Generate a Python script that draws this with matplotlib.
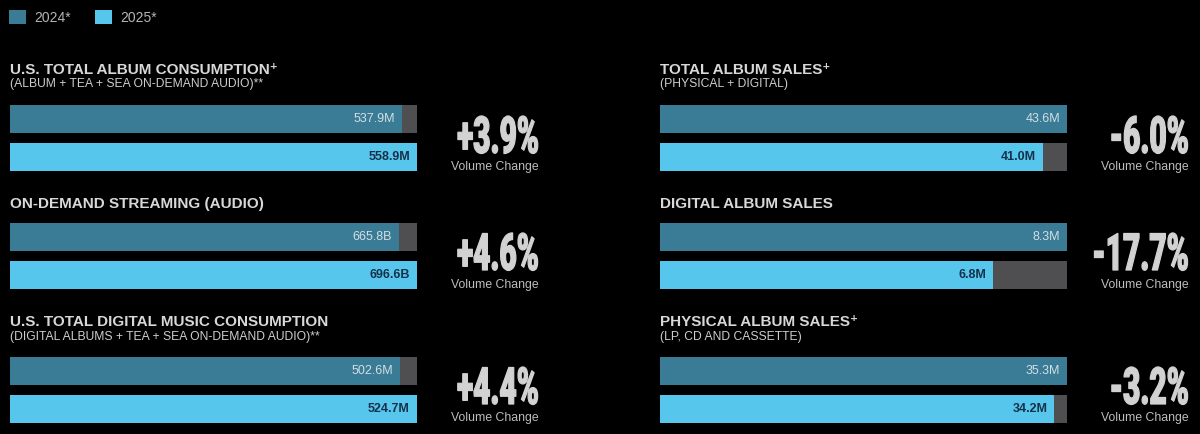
import matplotlib
matplotlib.use("Agg")
import matplotlib.pyplot as plt
from matplotlib.patches import Patch
from matplotlib.patheffects import AbstractPathEffect
from matplotlib.transforms import Affine2D

# ---------------- data ----------------
series = ["2024*", "2025*"]
titles = ["U.S. TOTAL ALBUM CONSUMPTION\u207a",
          "ON-DEMAND STREAMING (AUDIO)",
          "U.S. TOTAL DIGITAL MUSIC CONSUMPTION",
          "TOTAL ALBUM SALES\u207a",
          "DIGITAL ALBUM SALES",
          "PHYSICAL ALBUM SALES\u207a"]
subtitles = ["(ALBUM + TEA + SEA ON-DEMAND AUDIO)**",
             "",
             "(DIGITAL ALBUMS + TEA + SEA ON-DEMAND AUDIO)**",
             "(PHYSICAL + DIGITAL)",
             "",
             "(LP, CD AND CASSETTE)"]
vals_2024 = [537.9, 665.8, 502.6, 43.6, 8.3, 35.3]
vals_2025 = [558.9, 696.6, 524.7, 41.0, 6.8, 34.2]
units = ["M", "B", "M", "M", "M", "M"]
changes = ["+3.9%", "+4.6%", "+4.4%", "-6.0%", "-17.7%", "-3.2%"]
change_label = "Volume Change"

# ---------------- style ----------------
W, H = 1200, 434
BG = "#000000"
C24 = "#3a7b95"
C25 = "#57c6ed"
TRACK = "#4f4f51"
TXT = "#d8d8d8"
FONT = ["Liberation Sans", "DejaVu Sans"]
SY = 1.72          # vertical stretch of the big percentage figures

fig = plt.figure(figsize=(W / 100, H / 100), dpi=100, facecolor=BG)


def fx(x):
    return x / W


def fy(y):
    return 1 - y / H


class TallText(AbstractPathEffect):
    """Stretch glyphs vertically from their baseline (condensed display look) and embolden."""

    def __init__(self, sy, lw=0.9):
        super().__init__((0, 0))
        self.sy = sy
        self.lw = lw

    def draw_path(self, renderer, gc, tpath, affine, rgbFace=None):
        t = Affine2D().scale(1, self.sy) + affine
        renderer.draw_path(gc, tpath, t, rgbFace)
        gc0 = renderer.new_gc()
        gc0.copy_properties(gc)
        gc0.set_linewidth(self.lw)
        gc0.set_foreground(rgbFace)
        gc0.set_joinstyle("round")
        renderer.draw_path(gc0, tpath, t, None)
        gc0.restore()


# legend
handles = [Patch(facecolor=C24, edgecolor="none"), Patch(facecolor=C25, edgecolor="none")]
leg = fig.legend(handles, series, loc="upper left", bbox_to_anchor=(fx(9), fy(10)),
                 ncol=2, frameon=False, handlelength=1.2, handleheight=1.2,
                 handletextpad=0.65, columnspacing=1.7, borderpad=0, borderaxespad=0,
                 prop={"family": FONT, "size": 10})
for t in leg.get_texts():
    t.set_color("#b5b5b5")

# layout per panel
col_x = [10, 10, 10, 660, 660, 660]
bar_top = [105, 223, 357, 105, 223, 357]
title_base = [74, 208, 326, 74, 208, 326]
sub_base = [87, None, 340, 87, None, 340]
chg_right = [539, 539, 539, 1189, 1189, 1189]
chg_base = [153, 270, 404, 153, 270, 404]
vc_mid = [167, 285, 418, 167, 285, 418]

BAR_W = 407
BAR_H = 28
SEP = 38
hfrac = BAR_H / SEP

for i in range(6):
    x0 = col_x[i]
    top = bar_top[i]
    ax_h = SEP + BAR_H
    ax = fig.add_axes([fx(x0), fy(top + ax_h), BAR_W / W, ax_h / H])
    ax.set_facecolor(BG)
    v = [vals_2024[i], vals_2025[i]]
    track = max(v)
    ys = [0, 1]
    ax.barh(ys, [track, track], height=hfrac, color=TRACK, edgecolor="none")
    ax.barh(ys, v, height=hfrac, color=[C24, C25], edgecolor="none")
    ax.set_xlim(0, track)
    ax.set_ylim(1 + hfrac / 2, -hfrac / 2)
    ax.axis("off")
    lab_col = ["#d3dfe4", "#15314a"]
    lab_w = ["normal", "bold"]
    for y, val, c, w in zip(ys, v, lab_col, lab_w):
        ax.annotate(f"{val:.1f}{units[i]}", xy=(val, y), xytext=(-7, 0),
                    textcoords="offset pixels", ha="right", va="center",
                    fontsize=9, color=c, fontweight=w, family=FONT)

    fig.text(fx(x0), fy(title_base[i]), titles[i], ha="left", va="baseline",
             fontsize=11, fontweight="bold", color=TXT, family=FONT)
    if subtitles[i]:
        fig.text(fx(x0), fy(sub_base[i]), subtitles[i], ha="left", va="baseline",
                 fontsize=8.7, color="#cdcdcd", family=FONT)

    fig.text(fx(chg_right[i]), fy(chg_base[i]), changes[i], ha="right", va="baseline",
             fontsize=21.5, fontweight="black", color="#d2d2d2",
             family=["Roboto", "DejaVu Sans"], path_effects=[TallText(SY)])
    fig.text(fx(chg_right[i]), fy(vc_mid[i]), change_label, ha="right", va="center",
             fontsize=8.8, color="#bdbdbd", family=FONT)

fig.savefig("out.png", dpi=100, facecolor=BG)
